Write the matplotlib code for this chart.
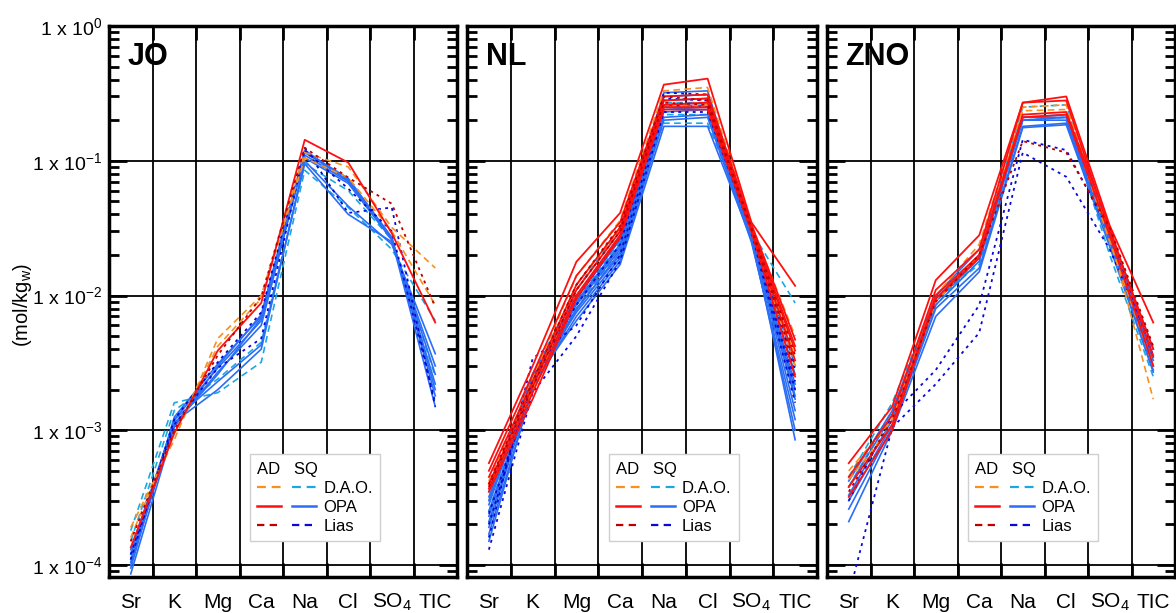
import matplotlib
matplotlib.use("Agg")
import matplotlib.pyplot as plt
from matplotlib.lines import Line2D
from matplotlib.legend_handler import HandlerTuple
from matplotlib.ticker import FixedLocator, NullFormatter, FixedFormatter

plt.rcParams['font.family'] = ['Liberation Sans', 'DejaVu Sans']
plt.rcParams['mathtext.fontset'] = 'custom'
plt.rcParams['mathtext.rm'] = 'Liberation Sans'
plt.rcParams['mathtext.it'] = 'Liberation Sans:italic'
plt.rcParams['mathtext.bf'] = 'Liberation Sans:bold'

elements = ['Sr', 'K', 'Mg', 'Ca', 'Na', 'Cl', 'SO$_4$', 'TIC']
panels = ['JO', 'NL', 'ZNO']
ytick_vals = [1e-4, 1e-3, 1e-2, 1e-1, 1e0]
ytick_labels = ['1 x 10$^{-4}$', '1 x 10$^{-3}$', '1 x 10$^{-2}$',
                '1 x 10$^{-1}$', '1 x 10$^{0}$']

# ---------------- JO ----------------
JO_SQ_DAO = [
    [1.8e-4, 1.6e-3, 1.9e-3, 3.2e-3, 0.085, 0.045, 0.022, 6.5e-3],
    [1.5e-4, 1.4e-3, 2.4e-3, 4.5e-3, 0.095, 0.060, 0.026, 2.5e-3],
]
JO_SQ_OPA = [
    [1.30e-4, 1.15e-3, 2.0e-3, 4.0e-3, 0.100, 0.046, 0.024, 3.7e-3],
    [1.20e-4, 1.20e-3, 2.3e-3, 4.3e-3, 0.095, 0.040, 0.025, 3.0e-3],
    [1.10e-4, 1.10e-3, 2.7e-3, 6.0e-3, 0.110, 0.070, 0.026, 2.6e-3],
    [1.00e-4, 1.20e-3, 2.9e-3, 6.5e-3, 0.115, 0.072, 0.026, 2.2e-3],
    [9.5e-5, 1.25e-3, 3.1e-3, 7.0e-3, 0.117, 0.074, 0.027, 2.0e-3],
    [8.6e-5, 1.05e-3, 3.0e-3, 7.2e-3, 0.120, 0.071, 0.027, 1.8e-3],
    [1.05e-4, 1.10e-3, 2.6e-3, 6.8e-3, 0.105, 0.068, 0.026, 1.5e-3],
]
JO_SQ_Lias = [
    [1.1e-4, 1.2e-3, 3.2e-3, 7.5e-3, 0.125, 0.041, 0.045, 1.5e-3],
    [1.2e-4, 1.1e-3, 2.9e-3, 4.8e-3, 0.120, 0.062, 0.030, 1.6e-3],
]
JO_AD_DAO = [
    [1.9e-4, 8.5e-4, 4.8e-3, 1.0e-2, 0.115, 0.090, 0.032, 0.016],
    [1.6e-4, 9.5e-4, 4.2e-3, 9.5e-3, 0.105, 0.075, 0.030, 8.5e-3],
]
JO_AD_OPA = [
    [1.35e-4, 9.5e-4, 3.9e-3, 8.8e-3, 0.143, 0.097, 0.029, 6.3e-3],
]
JO_AD_Lias = [
    [1.5e-4, 1.0e-3, 3.6e-3, 9.8e-3, 0.125, 0.075, 0.048, 8.2e-3],
]

# ---------------- NL ----------------
NL_SQ_DAO = [
    [2.0e-4, 2.6e-3, 1.1e-2, 3.2e-2, 0.19, 0.19, 0.030, 8.8e-3],
    [2.5e-4, 2.4e-3, 9.0e-3, 2.5e-2, 0.22, 0.22, 0.028, 2.0e-3],
    [3.0e-4, 2.2e-3, 8.0e-3, 2.2e-2, 0.27, 0.27, 0.031, 2.5e-3],
]
NL_SQ_OPA = [
    [3.5e-4, 2.6e-3, 1.0e-2, 2.8e-2, 0.32, 0.33, 0.030, 3.0e-3],
    [3.2e-4, 2.5e-3, 9.5e-3, 2.6e-2, 0.30, 0.31, 0.029, 2.6e-3],
    [3.0e-4, 2.3e-3, 9.0e-3, 2.4e-2, 0.28, 0.29, 0.028, 2.2e-3],
    [2.8e-4, 2.4e-3, 8.5e-3, 2.2e-2, 0.25, 0.26, 0.027, 2.0e-3],
    [2.5e-4, 2.2e-3, 8.0e-3, 2.0e-2, 0.23, 0.24, 0.026, 1.7e-3],
    [2.3e-4, 2.3e-3, 7.5e-3, 1.9e-2, 0.21, 0.22, 0.027, 1.4e-3],
    [2.1e-4, 2.1e-3, 7.0e-3, 1.8e-2, 0.20, 0.21, 0.025, 1.2e-3],
    [1.9e-4, 2.2e-3, 6.5e-3, 1.7e-2, 0.18, 0.18, 0.026, 1.0e-3],
    [1.7e-4, 2.0e-3, 7.8e-3, 2.1e-2, 0.24, 0.25, 0.028, 8.5e-4],
    [1.5e-4, 2.1e-3, 8.8e-3, 2.3e-2, 0.26, 0.27, 0.029, 1.8e-3],
]
NL_SQ_Lias = [
    [1.3e-4, 1.9e-3, 5.0e-3, 1.8e-2, 0.23, 0.23, 0.030, 1.6e-3],
    [1.6e-4, 3.4e-3, 6.0e-3, 2.0e-2, 0.26, 0.25, 0.031, 2.0e-3],
    [2.0e-4, 2.4e-3, 8.5e-3, 2.4e-2, 0.29, 0.28, 0.032, 2.3e-3],
    [2.4e-4, 2.2e-3, 9.5e-3, 2.7e-2, 0.32, 0.31, 0.030, 2.8e-3],
]
NL_AD_DAO = [
    [4.2e-4, 2.4e-3, 1.4e-2, 3.6e-2, 0.33, 0.35, 0.033, 5.0e-3],
    [3.8e-4, 2.2e-3, 1.2e-2, 3.2e-2, 0.26, 0.27, 0.031, 3.5e-3],
    [3.6e-4, 2.0e-3, 1.1e-2, 3.0e-2, 0.25, 0.26, 0.030, 3.0e-3],
]
NL_AD_OPA = [
    [5.7e-4, 3.0e-3, 1.78e-2, 4.1e-2, 0.367, 0.407, 0.035, 1.18e-2],
    [5.0e-4, 2.6e-3, 1.4e-2, 3.5e-2, 0.30, 0.31, 0.034, 4.7e-3],
    [4.5e-4, 2.3e-3, 1.2e-2, 3.2e-2, 0.28, 0.29, 0.033, 4.2e-3],
    [4.0e-4, 2.1e-3, 1.1e-2, 3.0e-2, 0.26, 0.27, 0.032, 3.9e-3],
    [3.7e-4, 1.9e-3, 1.0e-2, 2.8e-2, 0.25, 0.25, 0.031, 3.3e-3],
    [3.5e-4, 1.7e-3, 9.5e-3, 2.7e-2, 0.24, 0.24, 0.030, 2.5e-3],
]
NL_AD_Lias = [
    [4.0e-4, 2.3e-3, 1.2e-2, 3.3e-2, 0.30, 0.28, 0.032, 3.6e-3],
    [3.8e-4, 2.1e-3, 1.1e-2, 3.0e-2, 0.27, 0.26, 0.031, 3.0e-3],
]

# ---------------- ZNO ----------------
ZNO_SQ_DAO = [
    [4.5e-4, 1.6e-3, 9.5e-3, 1.7e-2, 0.20, 0.21, 0.020, 2.5e-3],
    [3.8e-4, 1.4e-3, 8.5e-3, 1.9e-2, 0.25, 0.26, 0.024, 3.5e-3],
]
ZNO_SQ_OPA = [
    [4.2e-4, 1.4e-3, 1.0e-2, 2.2e-2, 0.21, 0.22, 0.030, 4.0e-3],
    [3.8e-4, 1.3e-3, 9.5e-3, 2.0e-2, 0.21, 0.21, 0.028, 3.6e-3],
    [3.3e-4, 1.2e-3, 9.0e-3, 1.9e-2, 0.20, 0.21, 0.027, 3.3e-3],
    [3.0e-4, 1.1e-3, 8.5e-3, 1.8e-2, 0.20, 0.20, 0.026, 3.0e-3],
    [2.6e-4, 1.05e-3, 8.0e-3, 1.6e-2, 0.18, 0.19, 0.025, 2.8e-3],
    [2.1e-4, 1.0e-3, 7.0e-3, 1.5e-2, 0.176, 0.185, 0.023, 2.7e-3],
]
ZNO_SQ_Lias = [
    [6.0e-5, 1.05e-3, 2.2e-3, 5.3e-3, 0.115, 0.076, 0.022, 4.0e-3],
    [3.0e-4, 1.3e-3, 2.8e-3, 8.5e-3, 0.143, 0.120, 0.030, 3.5e-3],
]
ZNO_AD_DAO = [
    [5.0e-4, 1.2e-3, 1.0e-2, 2.4e-2, 0.25, 0.26, 0.028, 1.7e-3],
    [4.3e-4, 1.1e-3, 9.0e-3, 2.0e-2, 0.235, 0.24, 0.025, 3.0e-3],
]
ZNO_AD_OPA = [
    [5.7e-4, 1.5e-3, 1.3e-2, 2.8e-2, 0.27, 0.30, 0.033, 6.3e-3],
    [4.5e-4, 1.3e-3, 1.1e-2, 2.2e-2, 0.27, 0.28, 0.030, 4.0e-3],
    [3.8e-4, 1.1e-3, 1.0e-2, 2.0e-2, 0.22, 0.23, 0.032, 3.5e-3],
    [3.2e-4, 1.0e-3, 9.5e-3, 1.9e-2, 0.21, 0.22, 0.028, 3.0e-3],
]
ZNO_AD_Lias = [
    [3.5e-4, 1.2e-3, 9.0e-3, 2.0e-2, 0.14, 0.115, 0.032, 4.2e-3],
]

panel_data = {
    'JO': [JO_SQ_DAO, JO_SQ_OPA, JO_SQ_Lias, JO_AD_DAO, JO_AD_OPA, JO_AD_Lias],
    'NL': [NL_SQ_DAO, NL_SQ_OPA, NL_SQ_Lias, NL_AD_DAO, NL_AD_OPA, NL_AD_Lias],
    'ZNO': [ZNO_SQ_DAO, ZNO_SQ_OPA, ZNO_SQ_Lias, ZNO_AD_DAO, ZNO_AD_OPA, ZNO_AD_Lias],
}

C_AD_DAO = '#F7901E'
C_SQ_DAO = '#1BA8E2'
C_AD_OPA = '#FF1010'
C_SQ_OPA = '#2A6EF6'
C_AD_LIAS = '#C00000'
C_SQ_LIAS = '#0808D8'

DASH = (0, (4, 2.6))
DOT = (0, (1.6, 2.4))
LEG_DOT = (0, (3.3, 2.4))

styles = [
    dict(color=C_SQ_DAO, ls=DASH, lw=1.2),
    dict(color=C_SQ_OPA, ls='-', lw=1.2),
    dict(color=C_SQ_LIAS, ls=DOT, lw=1.3),
    dict(color=C_AD_DAO, ls=DASH, lw=1.2),
    dict(color=C_AD_OPA, ls='-', lw=1.3),
    dict(color=C_AD_LIAS, ls=DOT, lw=1.3),
]

fig = plt.figure(figsize=(11.76, 6.13), dpi=100)
W, H = 1176, 613
lefts = [109, 467, 827]
widths = [348, 350, 348]
bottom_px, top_px = 577, 26

x = [i + 0.5 for i in range(len(elements))]

for k, name in enumerate(panels):
    ax = fig.add_axes([lefts[k] / W, (H - bottom_px) / H, widths[k] / W, (bottom_px - top_px) / H])
    for group, st in zip(panel_data[name], styles):
        for vals in group:
            ax.plot(x, vals, color=st['color'], linestyle=st['ls'], lw=st['lw'])
    ax.set_yscale('log')
    ax.set_ylim(8.15e-5, 1.0)
    ax.set_xlim(0, 8)

    ax.xaxis.set_major_locator(FixedLocator(x))
    ax.xaxis.set_major_formatter(FixedFormatter(elements))
    ax.xaxis.set_minor_locator(FixedLocator(list(range(1, 8))))
    ax.tick_params(axis='x', which='major', length=0, labelsize=15, pad=22)
    ax.tick_params(axis='x', which='minor', direction='in', length=10, width=2,
                   top=True, bottom=True)
    for lbl in ax.get_xticklabels():
        lbl.set_verticalalignment('baseline')

    ax.yaxis.set_major_locator(FixedLocator(ytick_vals))
    minors = [m * 10.0 ** e for e in range(-5, 0) for m in range(2, 10)]
    ax.yaxis.set_minor_locator(FixedLocator(minors))
    ax.yaxis.set_minor_formatter(NullFormatter())
    if k == 0:
        ax.yaxis.set_major_formatter(FixedFormatter(ytick_labels))
        ax.set_ylabel('(mol/kg$_\\mathregular{w}$)', fontsize=14.5)
        ax.yaxis.set_label_coords(-0.215, 0.494)
    else:
        ax.yaxis.set_major_formatter(NullFormatter())
    ax.tick_params(axis='y', which='major', direction='in', length=13, width=2,
                   left=True, right=True, labelsize=14, pad=5)
    ax.tick_params(axis='y', which='minor', direction='in', length=7, width=2,
                   left=True, right=True)

    ax.grid(True, axis='x', which='minor', color='black', lw=1.3)
    ax.grid(True, axis='y', which='major', color='black', lw=1.3)
    ax.set_axisbelow(True)
    for sp in ax.spines.values():
        sp.set_linewidth(2.5)

    ax.text(0.053, 0.929, name, transform=ax.transAxes, fontsize=22,
            fontweight='bold', ha='left', va='baseline')

    h_dao = (Line2D([], [], color=C_AD_DAO, ls=DASH, lw=1.6),
             Line2D([], [], color=C_SQ_DAO, ls=DASH, lw=1.6))
    h_opa = (Line2D([], [], color=C_AD_OPA, ls='-', lw=1.8),
             Line2D([], [], color=C_SQ_OPA, ls='-', lw=1.8))
    h_lias = (Line2D([], [], color=C_AD_LIAS, ls=LEG_DOT, lw=1.6),
              Line2D([], [], color=C_SQ_LIAS, ls=LEG_DOT, lw=1.6))
    leg = ax.legend([h_dao, h_opa, h_lias], ['D.A.O.', 'OPA', 'Lias'],
                    handler_map={tuple: HandlerTuple(ndivide=None, pad=0.7)},
                    title='AD   SQ', title_fontsize=12, fontsize=12,
                    alignment='left', loc='lower left', bbox_to_anchor=(0.405, 0.065),
                    handlelength=3.5, handletextpad=0.45, labelspacing=0.24,
                    borderpad=0.45, borderaxespad=0, fancybox=False, framealpha=1,
                    edgecolor='#CFCFCF')
    leg.get_frame().set_linewidth(1.0)

fig.savefig('out.png', dpi=100)
